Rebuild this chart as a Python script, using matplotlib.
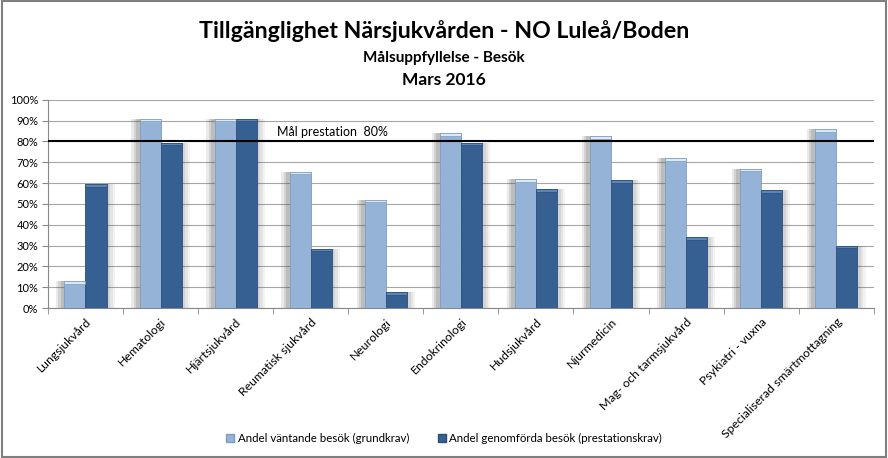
import matplotlib
matplotlib.use('Agg')
import matplotlib.pyplot as plt
import numpy as np
from matplotlib.patches import Rectangle, Patch

# Data
kategorier = ['Lungsjukvård', 'Hematologi', 'Hjärtsjukvård', 'Reumatisk sjukvård',
              'Neurologi', 'Endokrinologi', 'Hudsjukvård', 'Njurmedicin',
              'Mag- och tarmsjukvård', 'Psykiatri - vuxna',
              'Specialiserad smärtmottagning']
vantande = [13, 91, 91, 65.5, 52, 84, 62, 82.5, 72, 67, 86]
genomforda = [59.5, 79.5, 91, 28.5, 7.5, 79.5, 57, 61.5, 34, 56.5, 30]
mal = 80
serier = ['Andel väntande besök (grundkrav)',
          'Andel genomförda besök (prestationskrav)']

plt.rcParams['font.family'] = ['Lato', 'DejaVu Sans']

ljus = '#95b3d7'
ljus_kant = '#7f9cc0'
ljus_topp = '#dbe8f5'
mork = '#376092'
mork_kant = '#2c4e78'
mork_topp = '#5b84b8'

fig = plt.figure(figsize=(8.88, 4.58), dpi=100)
ax = fig.add_axes([0.054, 0.3275, 0.93, 0.4545])

x = np.arange(len(kategorier))
w = 0.28

# soft shadow behind the bars
for k, a in zip([0.11, 0.08, 0.05], [0.12, 0.15, 0.18]):
    ax.bar(x - w / 2 - k, vantande, w, color='#555555', alpha=a, zorder=1,
           linewidth=0)
    ax.bar(x + w / 2 + k, genomforda, w, color='#555555', alpha=a * 0.6,
           zorder=1, linewidth=0)

ax.bar(x - w / 2, vantande, w, color=ljus, edgecolor=ljus_kant, linewidth=0.6,
       zorder=3)
ax.bar(x + w / 2, genomforda, w, color=mork, edgecolor=mork_kant,
       linewidth=0.6, zorder=3)
# lighter caps on top of the bars
cap = 1.3
ax.bar(x - w / 2, cap, w, bottom=np.array(vantande) - cap, color=ljus_topp,
       edgecolor=ljus_kant, linewidth=0.5, zorder=4)
ax.bar(x + w / 2, cap, w, bottom=np.array(genomforda) - cap, color=mork_topp,
       edgecolor=mork_kant, linewidth=0.5, zorder=4)

# target line
ax.axhline(mal, color='black', linewidth=1.5, zorder=5)
ax.text(2.55, mal + 1.5, 'Mål prestation  {0}%'.format(mal), fontsize=9,
        va='bottom', ha='left', zorder=6)

ax.set_xlim(-0.5, len(kategorier) - 0.5)
ax.set_ylim(0, 100)
ax.set_yticks(np.arange(0, 101, 10))
ax.set_yticklabels(['{0}%'.format(v) for v in range(0, 101, 10)], fontsize=8)
ax.yaxis.grid(True, color='#a6a6a6', linewidth=0.8, zorder=0)
ax.set_axisbelow(True)

ax.set_xticks(x)
ax.set_xticklabels(kategorier, rotation=45, ha='right', rotation_mode='anchor',
                   fontsize=8.8)
ax.set_xticks(np.arange(-0.5, len(kategorier)), minor=True)
ax.tick_params(axis='x', which='major', length=0, pad=6)
ax.tick_params(axis='x', which='minor', length=4, color='#888888')
ax.tick_params(axis='y', length=4, color='#888888', pad=3)

for s in ['top', 'right']:
    ax.spines[s].set_visible(False)
ax.spines['left'].set_color('#888888')
ax.spines['bottom'].set_color('#888888')

# titles
fig.text(0.5, 0.933, 'Tillgänglighet Närsjukvården - NO Luleå/Boden',
         ha='center', va='center', fontsize=16.7, fontweight='bold')
fig.text(0.5, 0.873, 'Målsuppfyllelse - Besök', ha='center', va='center',
         fontsize=11, fontweight='bold')
fig.text(0.5, 0.826, 'Mars 2016', ha='center', va='center', fontsize=12.5,
         fontweight='bold')

handles = [Patch(facecolor=ljus, edgecolor=ljus_kant),
           Patch(facecolor=mork, edgecolor=mork_kant)]
fig.legend(handles, serier, loc='center', bbox_to_anchor=(0.5, 0.043),
           ncol=2, frameon=False, fontsize=8.3, handlelength=0.7,
           handleheight=0.7, handletextpad=0.3, columnspacing=2.5)

# outer border
fig.patches.append(Rectangle((0.002, 0.003), 0.996, 0.994,
                             transform=fig.transFigure, fill=False,
                             edgecolor='#7f7f7f', linewidth=1.5))

fig.savefig('out.png', dpi=100)
